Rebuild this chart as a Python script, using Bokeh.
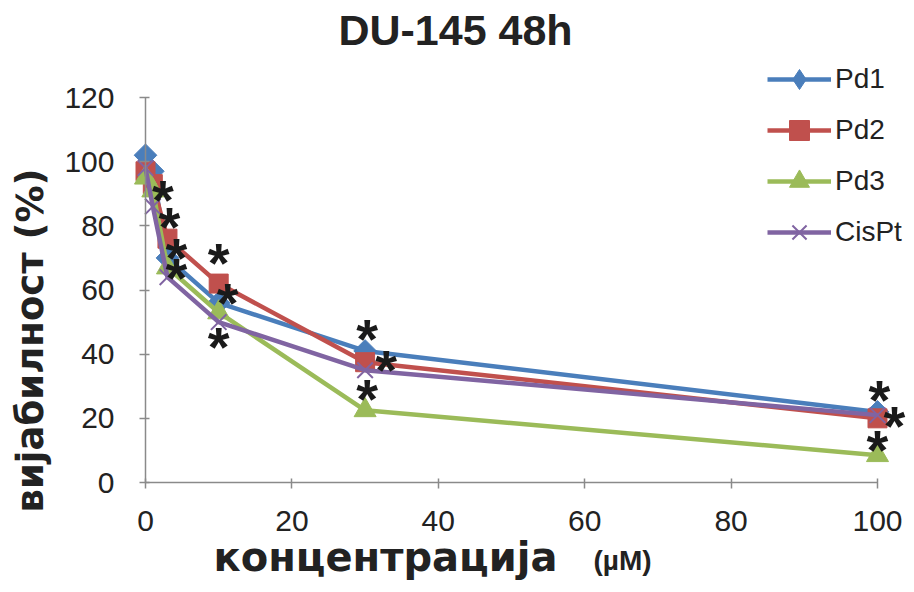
import math
from bokeh.plotting import figure
from bokeh.models import Label, Legend, LegendItem, FixedTicker, Range1d, ColumnDataSource
from bokeh.embed import file_html
from bokeh.resources import INLINE
from bokeh.core.properties import value

# ---------------- data ----------------
conc = [0, 1, 3, 10, 30, 100]
pd1 = [102, 97, 70, 56, 41, 22]
pd2 = [97, 93, 76, 62, 37.5, 20]
pd3 = [95, 91, 67, 53, 22.5, 8.5]
cispt = [98, 86, 64, 50, 35, 21]
series_names = ["Pd1", "Pd2", "Pd3", "CisPt"]
x_ticks = [0, 20, 40, 60, 80, 100]
y_ticks = [0, 20, 40, 60, 80, 100, 120]
# significance stars: (series, index into conc, placement)
stars = [
    ("Pd1", 5, "above"), ("Pd1", 4, "above"), ("Pd1", 3, "near"), ("Pd1", 2, "near"),
    ("Pd2", 5, "right_edge"), ("Pd2", 4, "right"), ("Pd2", 3, "high"), ("Pd2", 2, "above"),
    ("Pd3", 5, "above_low"), ("Pd3", 4, "above"), ("Pd3", 1, "near_r"),
    ("CisPt", 3, "below"), ("CisPt", 2, "near"),
]

values = {"Pd1": pd1, "Pd2": pd2, "Pd3": pd3, "CisPt": cispt}
colors = {"Pd1": "#4A7EBB", "Pd2": "#C0504D", "Pd3": "#9BBB59", "CisPt": "#8064A2"}

FONT = "Liberation Sans"
WIDE = "DejaVu Sans"
W, H = 906, 584
# pixel geometry of the plotting area (axes drawn at fixed locations)
X0PX, X1PX, Y0PX, Y1PX = 145, 877, 482, 97
XMAX, YMAX = 100, 120
kx = (X1PX - X0PX) / XMAX
ky = (Y0PX - Y1PX) / YMAX
BASE = 0.4  # renderer places the alphabetic baseline ~0.4em lower


def dx(px):
    return (px - X0PX) / kx


def dy(py):
    return (Y0PX - py) / ky


p = figure(width=W, height=H, x_range=Range1d(dx(0), dx(W)), y_range=Range1d(dy(H), dy(0)),
           output_backend="svg", toolbar_location=None, min_border=0)
p.outline_line_color = None
p.xgrid.grid_line_color = None
p.ygrid.grid_line_color = None

for ax in (p.xaxis, p.yaxis):
    ax.fixed_location = 0
    ax.axis_line_color = "#8a8a8a"
    ax.axis_line_width = 1.5
    ax.major_tick_line_color = "#8a8a8a"
    ax.major_tick_line_width = 1.5
    ax.major_tick_in = 4
    ax.major_tick_out = 6
    ax.minor_tick_line_color = None
    ax.major_label_text_font = FONT
    ax.major_label_text_font_size = "30px"
    ax.major_label_text_color = "#222222"
p.xaxis.bounds = (0, XMAX)
p.yaxis.bounds = (0, YMAX)
p.xaxis.ticker = FixedTicker(ticks=x_ticks)
p.yaxis.ticker = FixedTicker(ticks=y_ticks)
p.xaxis.major_label_standoff = 22
p.yaxis.major_label_standoff = 25

items = []
nan_x = [float("nan")]
for name in series_names:
    c = colors[name]
    ln = p.line(conc, values[name], line_width=4.5, color=c)
    if name == "Pd1":
        p.scatter(conc, values[name], marker="square", angle=math.pi / 4, size=16,
                  fill_color=c, line_color=c)
        # legend-only marker (rotated squares are not rotated in legends)
        sc = p.scatter(nan_x, nan_x, marker="diamond", size=16, fill_color=c, line_color=c)
    elif name == "Pd2":
        sc = p.scatter(conc, values[name], marker="square", size=19, fill_color=c, line_color=c)
    elif name == "Pd3":
        sc = p.scatter(conc, values[name], marker="triangle", size=22, fill_color=c, line_color=c)
    else:
        sc = p.scatter(conc, values[name], marker="x", size=22, line_color=c, line_width=2)
    items.append(LegendItem(label=name, renderers=[ln, sc]))

# stars (offsets in pixels from the data point)
STAR = 56
offs = {"above": (2, -19), "above_low": (0, -13), "high": (0, -28), "right": (21, 0),
        "right_edge": (17, 0), "below": (0, 17), "near": (9, -7), "near_r": (10, 2)}
sx, sy, ox, oy = [], [], [], []
for name, i, where in stars:
    sx.append(conc[i])
    sy.append(values[name][i])
    ox.append(offs[where][0])
    oy.append(offs[where][1] + 7)
src = ColumnDataSource(dict(x=sx, y=sy, ox=ox, oy=oy, t=["*"] * len(sx)))
p.text(x="x", y="y", text="t", x_offset="ox", y_offset="oy", source=src,
       text_font=value(FONT), text_font_style="bold", text_font_size=f"{STAR}px",
       text_align="center", text_baseline="alphabetic", text_color="#1a1a1a")

legend = Legend(items=items, location=(767, H - 257), orientation="vertical")
legend.glyph_width = 64
legend.glyph_height = 50
legend.label_text_font = FONT
legend.label_text_font_size = "28px"
legend.label_text_color = "#222222"
legend.label_standoff = 4
legend.spacing = 1
legend.padding = 0
legend.margin = 0
legend.border_line_color = None
legend.background_fill_alpha = 0
p.add_layout(legend, "center")


def text_label(txt, px, base_py, size, font, angle=0.0, shift_x=False):
    # place a text so that its baseline ends up at base_py (or base x for rotated text)
    if shift_x:
        x, y = dx(px - BASE * size), dy(base_py)
    else:
        x, y = dx(px), dy(base_py - BASE * size)
    p.add_layout(Label(x=x, y=y, text=txt, text_font=font, text_font_style="bold",
                       text_font_size=f"{size}px", text_align="center",
                       text_baseline="alphabetic", angle=angle, text_color="#222222"))


text_label("DU-145 48h", 455, 47, 43, FONT)
text_label("концентрација", 385, 572, 40, WIDE)
text_label("(µM)", 622, 571, 28, FONT)
text_label("вијабилност (%)", 45, 340, 37, WIDE, angle=math.pi / 2, shift_x=True)

open("out.html", "w").write(file_html(p, INLINE))
